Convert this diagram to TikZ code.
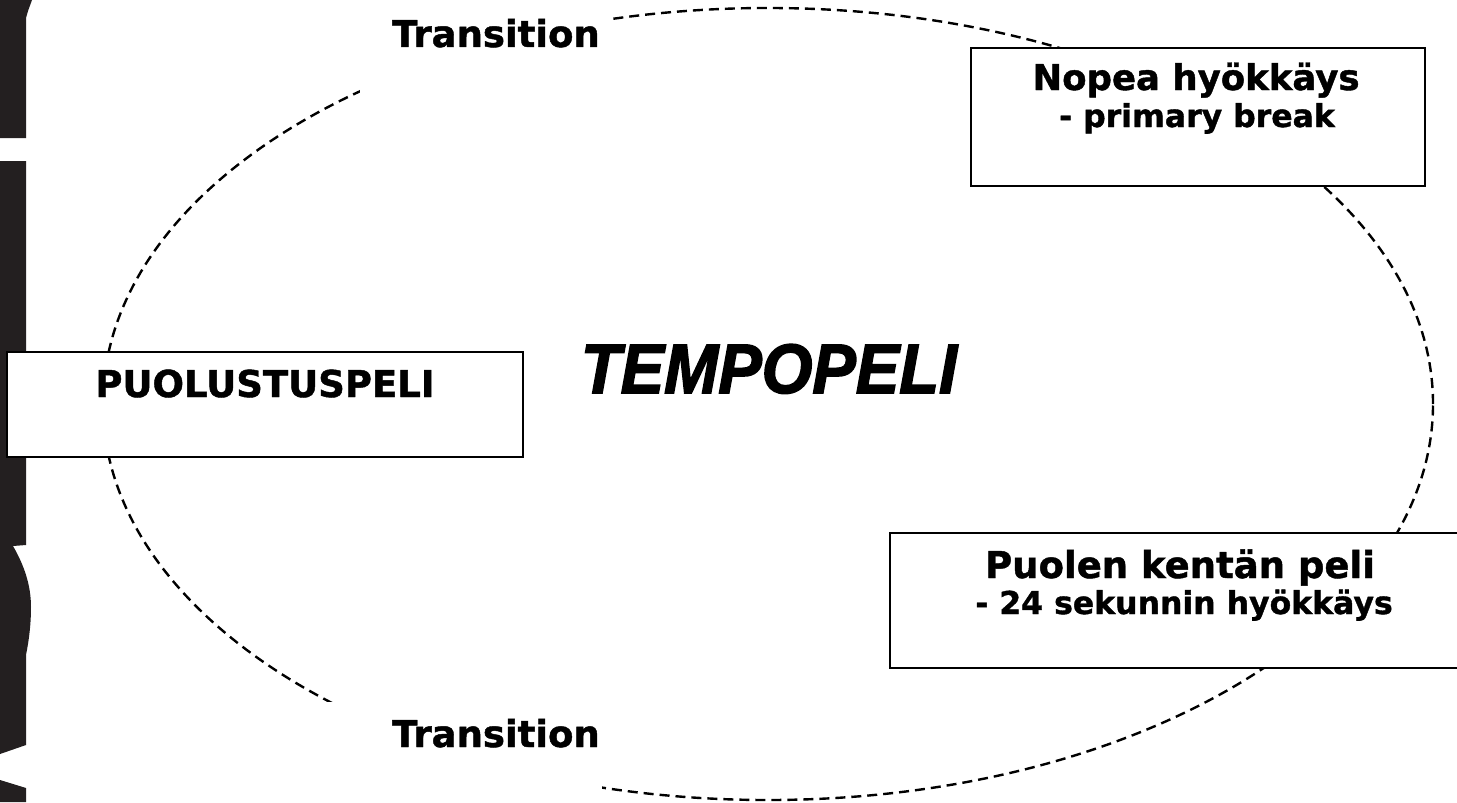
\documentclass[tikz,border=0pt]{standalone}
\usepackage{fontspec}
\setmainfont{DejaVu Sans}[BoldFeatures={FakeBold=1.2}]
\newfontfamily\tempo[BoldItalicFeatures={FakeStretch=0.93,FakeBold=2.2}]{Liberation Sans}
\definecolor{barblack}{RGB}{35,31,32}
\begin{document}
\begin{tikzpicture}[x=1bp,y=-1bp,
  box/.style={draw=black,line width=2.6bp,fill=white,inner sep=0pt},
  big/.style={anchor=base,font=\fontsize{37bp}{40bp}\selectfont\bfseries},
  small/.style={anchor=base,font=\fontsize{31.5bp}{36bp}\selectfont\bfseries},
  cycle line/.style={line width=2.4bp,dash pattern=on 10bp off 6bp}]
\useasboundingbox (0,0) rectangle (1457,802);
\fill[white] (0,0) rectangle (1457,802);
% left black fragments
\fill[barblack] (0,0) -- (32,0) -- (28,11) .. controls (27,14) .. (26,18) -- (26,138) -- (0,138) -- cycle;
\fill[barblack] (0,161) -- (26,161) -- (26,545) -- (13,546)
  .. controls (24,565) and (31,585) .. (31,607)
  .. controls (31,628) and (28,645) .. (26,655) -- (26,745) -- (0,754) -- cycle;
\fill[barblack] (0,780) -- (26,788) -- (26,802) -- (0,802) -- cycle;
% dashed cycle
\draw[cycle line] (768,404) ellipse [x radius=665bp, y radius=396bp];
% label backgrounds
\fill[white] (360,0) rectangle (608,95);
\fill[white] (326,702) rectangle (602,802);
% boxes
\node[box,minimum width=454bp,minimum height=138bp] (nopea) at (1198,117) {};
\node[box,minimum width=516bp,minimum height=105bp] (puolustus) at (265,404.5) {};
\node[box,minimum width=590bp,minimum height=135bp] (puolen) at (1185,600.5) {};
% texts
\node[big] (trtop) at (496,47) {Transition};
\node[big] (trbot) at (496,747) {Transition};
\node[big] (puolustusT) at (265,397) {PUOLUSTUSPELI};
\node[anchor=base,font=\fontsize{35.5bp}{40bp}\selectfont\bfseries] (nopeaA) at (1196,90) {Nopea hyökkäys};
\node[small] (nopeaB) at (1197,127) {- primary break};
\node[big] (puolenA) at (1180,578) {Puolen kentän peli};
\node[small] (puolenB) at (1184,614) {- 24 sekunnin hyökkäys};
\node[anchor=base,font=\fontsize{70bp}{75bp}\selectfont\tempo\bfseries\itshape] (tempo) at (769,393) {TEMPOPELI};
\end{tikzpicture}
\end{document}
